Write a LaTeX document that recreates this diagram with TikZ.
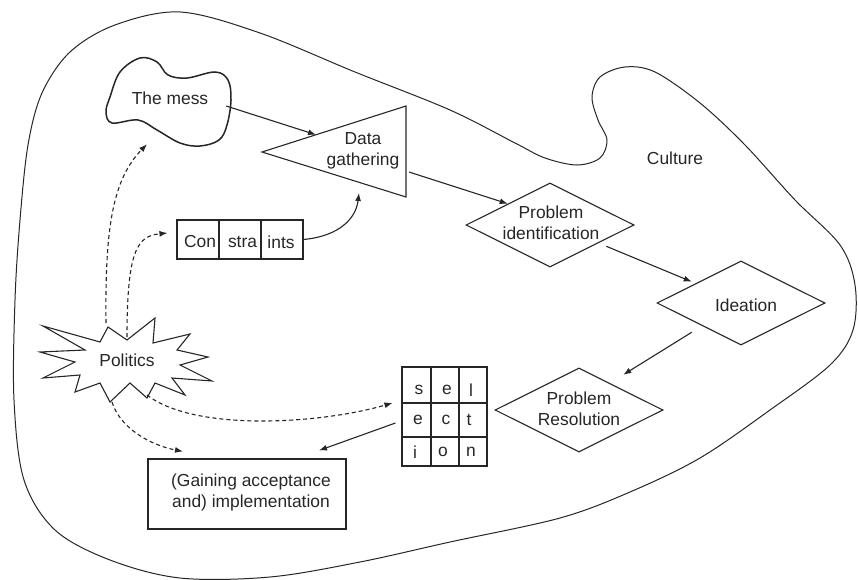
\documentclass[tikz,border=0pt]{standalone}
\usepackage{fontspec}
\setmainfont{Liberation Sans}
\usetikzlibrary{shapes.geometric,arrows.meta,calc}
\begin{document}
\begin{tikzpicture}[x=1pt,y=-1pt,
  ink/.style={draw=black!85, line width=1.1pt},
  lbl/.style={text=black!85, font=\fontsize{17.4}{21}\selectfont, align=center, inner sep=0pt},
  diam/.style={ink, diamond, minimum width=168pt, minimum height=84pt, inner sep=0pt},
  arr/.style={draw=black!85, line width=1.1pt, -{Latex[length=8pt,width=6pt]}},
  darr/.style={arr, dash pattern=on 4pt off 3pt},
]
\useasboundingbox (0,0) rectangle (858,580);

% the surrounding culture boundary
\draw[draw=black!85, line width=1pt] plot[smooth cycle, tension=0.55] coordinates {
  (180,12) (260,33) (355,72) (450,110) (515,143) (545,158) (577,165) (600,158)
  (607,140) (598,120) (592,97) (600,77) (625,67) (655,72) (700,103) (745,145)
  (795,200) (840,245) (855,285) (853,330) (830,365) (770,410) (700,458) (630,492)
  (560,518) (450,542) (360,562) (270,577) (180,578) (110,560) (55,530) (24,480)
  (14,400) (15,300) (20,220) (28,145) (42,93) (70,52) (115,25)};
\node[lbl] (culture) at (675,158) {Culture};

% the mess
\draw[draw=black!85, line width=1.5pt] plot[smooth cycle, tension=0.6] coordinates {
  (110,97) (120,72) (140,58) (157,62) (168,75) (187,78) (215,72) (228,80)
  (231,100) (227,125) (219,140) (200,146) (180,143) (157,130) (138,120)
  (112,123) (106,112)};
\node[lbl, minimum width=120pt, minimum height=86pt] (mess) at (168,101) {};
\node[lbl] (messtxt) at (170,98) {The mess};

% data gathering triangle
\coordinate (dgtip) at (262,152);
\coordinate (dgtop) at (406,106);
\coordinate (dgbot) at (406,197);
\draw[ink] (dgtip) -- (dgtop) -- (dgbot) -- cycle;
\node[lbl] (dg) at (363,151) {Data\\gathering};
\coordinate (dgin) at ($(dgtip)!0.375!(dgtop)$);
\coordinate (dgout) at (409,172);
\coordinate (dgunder) at (359,193);

% constraints
\node[ink, minimum width=126pt, minimum height=39pt, inner sep=0pt] (cons) at (240,239.5) {};
\draw[ink] (219,220) -- (219,259) (261,220) -- (261,259);
\node[lbl] (c1) at (200,242) {Con};
\node[lbl] (c2) at (242.5,242) {stra};
\node[lbl] (c3) at (281,242) {ints};

% process diamonds
\node[diam] (pi) at (550,225) {};
\node[lbl] (pitxt) at (551,223) {Problem\\identification};
\node[diam] (ide) at (741,303) {};
\node[lbl] (idetxt) at (746,305) {Ideation};
\node[diam] (pr) at (579,410) {};
\node[lbl] (prtxt) at (579,409) {Problem\\Resolution};

% selection grid
\node[ink, minimum width=85pt, minimum height=99pt, inner sep=0pt] (sel) at (444.5,416.5) {};
\draw[ink] (431,367) -- (431,466) (459,367) -- (459,466)
           (402,403) -- (487,403) (402,437) -- (487,437);
\node[lbl] (s1) at (419,390) {s};
\node[lbl] (s2) at (447,390) {e};
\node[lbl] (s3) at (471,390) {l};
\node[lbl] (s4) at (418,420) {e};
\node[lbl] (s5) at (446,420) {c};
\node[lbl] (s6) at (469,420) {t};
\node[lbl] (s7) at (415,452) {i};
\node[lbl] (s8) at (443,452) {o};
\node[lbl] (s9) at (471,452) {n};

% implementation box
\node[ink, minimum width=198pt, minimum height=70pt, inner sep=0pt] (gain) at (247,494) {};
\node[lbl] (gaintxt) at (251,492.5) {(Gaining acceptance\\and) implementation};

% politics starburst
\draw[ink] (43,326) -- (100,342) -- (108,327) -- (127,340) -- (155,318) -- (153,343)
  -- (190,334) -- (177,350) -- (208,357) -- (180,365) -- (212,381) -- (172,378)
  -- (185,395) -- (155,383) -- (147,398) -- (130,383) -- (110,402) -- (100,383)
  -- (75,392) -- (80,375) -- (43,378) -- (75,362) -- (40,352) -- (85,350) -- cycle;
\node[lbl] (pol) at (127,360) {Politics};
\coordinate (pA) at (106,323);
\coordinate (pB) at (127,337);
\coordinate (pC) at (147,395);
\coordinate (pD) at (112,402);

% main flow
\draw[arr] ([shift={(-2pt,-5pt)}]mess.east) -- (dgin);
\draw[arr] (dgout) -- (pi.north west);
\draw[arr] ([xshift=14pt]pi.south east) -- ([xshift=-7pt]ide.north west);
\draw[arr] ([shift={(-7pt,-8pt)}]ide.south west) -- ([shift={(2pt,14pt)}]pr.north east);
\draw[arr] ([shift={(-6pt,-6.5pt)}]sel.west) -- ([shift={(72pt,8pt)}]gain.north);
\draw[arr] (cons.east) .. controls (340,236) and (356,218) .. (dgunder);

% political influences
\draw[darr] (pA) .. controls (105,230) and (112,180) .. ([xshift=-21pt]mess.south);
\draw[darr] (pB) .. controls (127,248) and (138,236) .. ([shift={(-9pt,6.5pt)}]cons.west);
\draw[darr] (pC) .. controls (195,432) and (320,424) .. ([shift={(-9pt,13.5pt)}]sel.west);
\draw[darr] (pD) .. controls (120,428) and (150,445) .. ([shift={(-64pt,7pt)}]gain.north);
\end{tikzpicture}
\end{document}
